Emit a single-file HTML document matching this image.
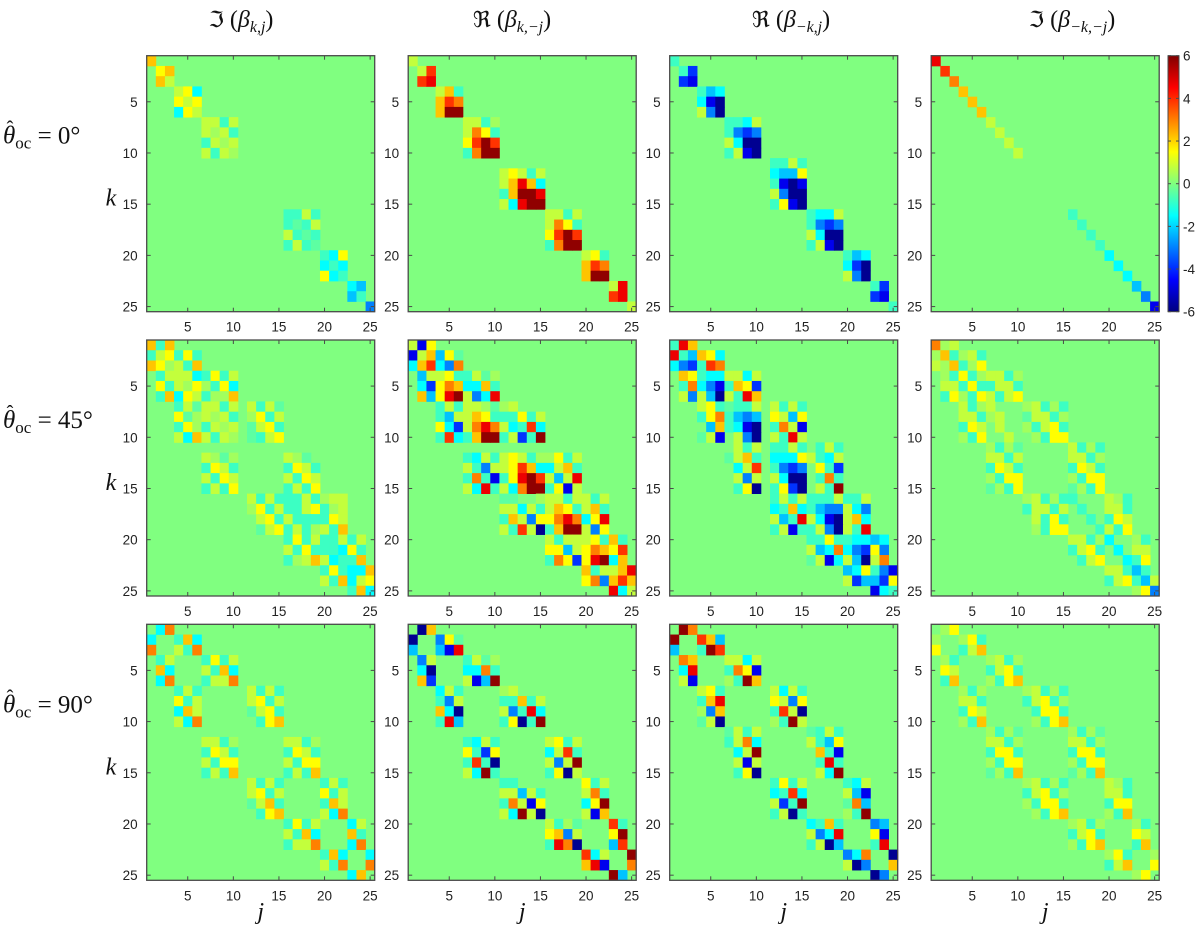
<!DOCTYPE html>
<html>
<head>
<meta charset="utf-8">
<style>
  html,body{margin:0;padding:0;background:#fff;}
  svg{display:block;}
</style>
</head>
<body>
<svg id="fig" xmlns="http://www.w3.org/2000/svg" width="1200" height="935" viewBox="0 0 1200 935">
  <defs>
    <linearGradient id="jetgrad" x1="0" y1="1" x2="0" y2="0">
      <stop offset="0" stop-color="rgb(0,0,128)"/>
      <stop offset="0.125" stop-color="rgb(0,0,255)"/>
      <stop offset="0.375" stop-color="rgb(0,255,255)"/>
      <stop offset="0.625" stop-color="rgb(255,255,0)"/>
      <stop offset="0.875" stop-color="rgb(255,0,0)"/>
      <stop offset="1" stop-color="rgb(128,0,0)"/>
    </linearGradient>
  </defs>
</svg>
<script>
// ---------- data ----------
const levelChars = ["G","F","E","D","C","B","A","L",".","l","a","b","c","d","e","f","g"];
const levelValues = [-5.8,-4.7,-3.9,-3,-2.2,-1.5,-0.8,-0.4,0,0.4,0.8,1.5,2.2,3,3.9,4.7,5.8];
const kTicks = [5,10,15,20,25];
const jTicks = [5,10,15,20,25];
const colorbarTicks = [6,4,2,0,-2,-4,-6];
const rowAngles = ["0°","45°","90°"];
const titleSubs = ["k,j","k,−j","−k,j","−k,−j"];
const titleOps = ["ℑ","ℜ","ℜ","ℑ"];

const gridR1C1 = ["1:c","2:bc","2:ca","4:abB","4:bab","4:Bba","7:aaAa","7:alaA","7:Aala","7:aAal","","","","","","16:AAaA","16:ALAa","16:aALA","16:AaAL","20:ABb","20:BAB","20:bBA","23:BC","23:CA","25:D"];
const gridR1C2 = ["1:a","2:ae","2:ef","4:acA","4:ced","4:cgg","7:aaAl","7:adbA","7:bege","7:Adgg","","11:abaAa","11:acfcB","11:Acggf","11:aBfgg","16:aaAa","16:adbA","16:bege","16:Adgg","20:abA","20:ced","20:cgg","23:af","23:ef","25:a"];
const gridR1C3 = ["1:A","2:AE","2:EF","4:ACB","4:BFG","4:aDG","7:AABa","7:ADED","7:aBGG","7:AaFG","12:AAaA","12:BCCb","12:AFGF","12:aDGG","12:AbFG","16:ABBa","16:ADED","16:aBGG","16:AaFG","20:ACB","20:BEG","20:aDG","23:AE","23:EF","25:A"];
const gridR1C4 = ["1:f","2:e","3:d","4:c","5:c","6:c","7:a","8:a","9:a","10:a","","","","","","16:A","17:A","18:A","19:A","20:B","21:B","22:B","23:C","24:D","25:F"];

const gridR2C1 = ["1:cAc","1:AabAbA","1:cblaAc","2:AaaaBAbAa","2:bAalblAbB","2:AcBbaAllc","4:AaLaaAa 12:aAaL","4:bLlalaA 12:lbAa","4:AblAala 12:LabA","4:aBcaAal 12:LAab","","7:alLl 16:alL","7:AbaA 16:AbaA","7:aAba 16:aAba","7:AaAb 16:AaAb","12:aAaAAAaAlaa","12:lbAaAAabAla","13:abAaAAAAba","13:LabAaAlaAc","16:AbAaAAaAa","16:aAbAAABbA","16:AlacaBAAc","20:AbABBc","20:aAcBab","23:AcB"];
const gridR2C2 = ["1:aFb","1:FacCbL","1:BceBDd","2:CaabAAaLl","2:BEbdcBBcA","2:cCbfgaDBf","4:AaAaalLla","4:ACaacbAAAbAa","4:bBEadfdaBAeB","4:AeBAcggAaEAg","","7:ABaAabaAllbAa","7:aADaabecBBacA","7:AdAFAbfgeaCaf","7:aBfAaBdggAbFa","11:LL 15:laaAaaAa","11:aaBaAacbAacA","11:AcaDbbdfdBbf","11:aAeaGAcggaDb","16:aAaaabAcA","16:bbCabdcbe","16:AdbEbfgBc","20:cAaacf","20:bdDcec","23:fBa"];
const gridR2C3 = ["1:Afc","1:fACcbB","1:BDEAed","2:cbABBaaBa","2:AdBDFAcbE","2:aDaCGaAfc","4:abALAAa 12:aAaA","4:AbdACDC 12:baCb","5:CcABFG 12:AdaF","4:LaF 8:aDG 12:aAfa","8:aAa 12:AAaA 17:AaA","7:LacA 12:BBBbaABa","8:Bae 12:ADED 17:bAE","8:aDa 12:aBGG 17:AdA","8:AbG 12:AbEG 17:aAg","12:AaAaAAAaAAa","12:BAcBACDDaBD","12:aCAfaBFGacB","12:AaFAAaDGaAf","16:AAbAABBCB","16:aCBdBDEbD","16:LaFBaCGad","20:CBbADF","20:aECCEb","23:FBA"];
const gridR2C4 = ["1:dla","1:lcAlaA","1:alcAlb","2:lAbAlaaAl","2:aaAbAAaaA","2:AblAbaAab","4:aAla 11:laAlA","4:aaAla 11:LaaAl","4:Aba 8:a 11:lAabA","4:lAb 9:a 12:lAbb","7:lAlL 16:aAlA","7:aaAa 16:aaAl","7:AbaA 16:AbaA","7:lAbb 16:lAbb","7:LlAb 16:LlAb","11:laAlAA 20:alA","11:AaaAa 17:A 20:aaA","12:aAbA 18:A 20:Aba","12:lAbb 19:AaAb","16:aaAlB 23:lA","16:AabA 21:B 23:aa","17:Aab 22:BAb","20:aaACA","20:AabACa","23:lbD"];

const gridR3C1 = ["2:Bd","1:B 4:AcB","1:d 4:aAd","2:Aa 7:AbAa","2:cB 7:aAcB","2:Bd 7:Aaad","4:AaA 12:aAaA","4:bAa 12:abAa","4:Bca 12:LabA","4:aBd 13:Abc","","7:aaAl 16:aaAl","7:AbaA 16:AbaA","7:aAbb 16:aAbb","7:AaAc 16:AaAc","12:aAaA 20:AaA","12:abAa 20:bAa","12:LacA 20:Aca","13:Abc 20:aBd","16:AbAa 23:Ba","16:aAcB 23:cA","16:Aaad 23:Bd","20:AcB 25:B","20:aAd 25:d","23:Bc"];
const gridR3C2 = ["2:Gc","1:G 4:DbL","1:C 4:CFf","2:Da 7:AaLl","2:BG 7:BBdA","2:cE 7:aFCg","4:BaA 11:la","4:ADa 11:AAcAa","4:cBG 11:aDAfB","4:AfC 11:AbGAg","","7:ABaA 16:abAa","7:bAEb 16:BaeA","7:AeAG 16:aDag","7:aBgA 16:AbGa","11:AA 20:bAa","11:aaCaA 20:adA","11:AdaFb 20:Bbg","11:aBgaG 20:aFc","16:aAlL 23:eA","16:bcDa 23:bg","16:AfdG 23:Ce","20:eBa 25:g","20:cfF 25:d","23:gC"];
const gridR3C3 = ["2:gd","1:g 4:ecC","1:C 4:Age","2:dc 7:aaBa","2:Bf 7:AdbF","2:aF 7:lAgc","4:abA 12:aBaA","4:Acf 12:baDb","4:lDc 12:AeaG","4:LaG 12:lAga","7:LaAa 16:LAaA","7:AadB 16:aACb","8:Bag 17:cAF","8:aFa 17:AfA","8:AbG 17:aBg","12:AbAa 20:ABa","12:BAeB 20:aCF","12:aEAg 20:LdC","12:AaGA 20:lAg","16:BAcA 23:DC","16:aDBf 23:bF","16:AaGC 23:Af","20:DBd 25:G","20:aGD 25:c","23:GD"];
const gridR3C4 = ["2:lb","1:l 4:lbA","1:b 4:Aac","2:lA 7:laAl","2:ba 7:AabA","2:Ac 7:lAbc","4:lAl 11:laAlA","4:aaA 11:AabAl","4:Aba 12:AbbA","4:lAc 12:lAbc","7:lAlL 16:lAlL","7:aaAl 16:aaAl","7:AbbA 16:AbbA","7:lAbb 16:lAbb","7:LlAc 16:LlAc","11:laAlA 20:alA","11:AabAl 20:aaA","11:lAbbA 20:Abb","12:lAbc 20:lAc","16:laAl 23:lA","16:AabA 23:ba","16:lAbc 23:Ac","20:lbA 25:l","20:Aac 25:b","23:lb"];

const allGrids = [[gridR1C1,gridR1C2,gridR1C3,gridR1C4],[gridR2C1,gridR2C2,gridR2C3,gridR2C4],[gridR3C1,gridR3C2,gridR3C3,gridR3C4]];

// ---------- layout ----------
const NS = "http://www.w3.org/2000/svg";
const svg = document.getElementById("fig");
const PW = 228, PH = 256, N = 25;
const CW = PW / N, CH = PH / N;
const panelLeft = [146.7, 408.2, 669.7, 931.2];
const panelTop = [55.7, 340, 624.3];
const titleCenter = [241, 512, 791, 1072];
const VMIN = -6, VMAX = 6;
const AX = "#4a4a4a";

function el(tag, attrs, parent) {
  const e = document.createElementNS(NS, tag);
  for (const k in attrs) e.setAttribute(k, attrs[k]);
  (parent || svg).appendChild(e);
  return e;
}
function jet(v) {
  let t = (v - VMIN) / (VMAX - VMIN);
  t = Math.max(0, Math.min(1, t));
  const c = x => Math.round(255 * Math.max(0, Math.min(1, x)));
  const r = c(1.5 - Math.abs(4 * t - 3));
  const g = c(1.5 - Math.abs(4 * t - 2));
  const b = c(1.5 - Math.abs(4 * t - 1));
  return "rgb(" + r + "," + g + "," + b + ")";
}
function valueOf(ch) {
  const i = levelChars.indexOf(ch);
  return i < 0 ? 0 : levelValues[i];
}
function xScale(px, j) { return px + (j - 1) * CW; }
function yScale(py, k) { return py + (k - 1) * CH; }

// ---------- column titles ----------
for (let c = 0; c < 4; c++) {
  const t = el("text", {x: titleCenter[c], y: 27, "text-anchor": "middle", "font-size": 24, "font-family": "'Liberation Serif','DejaVu Serif',serif", fill: "#111"});
  
  
  const a = el("tspan", {"font-family": "'DejaVu Serif',serif", "font-size": 22}, t); a.textContent = titleOps[c];
  const b = el("tspan", {}, t); b.textContent = " (";
  const d = el("tspan", {"font-style": "italic"}, t); d.textContent = "β";
  const e = el("tspan", {"font-style": "italic", "font-size": 16, dy: 5}, t); e.textContent = titleSubs[c];
  const f = el("tspan", {dy: -5}, t); f.textContent = ")";
}

// ---------- panels ----------
for (let r = 0; r < 3; r++) {
  const py = panelTop[r];
  const g = el("g", {});
  
  
  const rl = el("text", {x: 3, y: py + 88, "font-size": 25, "font-family": "'Liberation Serif','DejaVu Serif',serif", fill: "#111"}, g);
  const th = el("tspan", {"font-style": "italic"}, rl); th.textContent = "θ";
  const oc = el("tspan", {"font-size": 17, dy: 5}, rl); oc.textContent = "oc";
  const eq = el("tspan", {dy: -5}, rl); eq.textContent = " = " + rowAngles[r];
  const hat = el("text", {x: 10, y: py + 79, "text-anchor": "middle", "font-size": 20, "font-family": "'Liberation Serif',serif", fill: "#111"}, g);
  hat.textContent = "ˆ";
  const kl = el("text", {x: 111, y: py + 150, "text-anchor": "middle", "font-size": 24, "font-style": "italic", "font-family": "'Liberation Serif',serif", fill: "#111"});
  
  
  kl.textContent = "k";

  for (let c = 0; c < 4; c++) {
    const px = panelLeft[c];
    const grid = allGrids[r][c];
    const pg = el("g", {});
    
    
    const bg = el("rect", {x: px, y: py, width: PW, height: PH, fill: jet(0)}, pg);
    
    
    for (let k = 1; k <= N; k++) {
      const rowStr = grid[k - 1] || "";
      const segs = rowStr.split(" ").filter(s => s.length);
      for (const s of segs) {
        const parts = s.split(":");
        const start = parseInt(parts[0], 10);
        const chars = parts[1];
        for (let i = 0; i < chars.length; i++) {
          const v = valueOf(chars[i]);
          if (v === 0) continue;
          const j = start + i;
          const cell = el("rect", {x: xScale(px, j).toFixed(2), y: yScale(py, k).toFixed(2), width: (CW + 0.4).toFixed(2), height: (CH + 0.4).toFixed(2), fill: jet(v)}, pg);
          
          
        }
      }
    }
    const fr = el("rect", {x: px, y: py, width: PW, height: PH, fill: "none", stroke: AX, "stroke-width": 1.3}, pg);
    
    
    for (const j of jTicks) {
      const x = px + (j - 0.5) * CW;
      const t1 = el("line", {x1: x, x2: x, y1: py, y2: py + 4, stroke: AX, "stroke-width": 1}, pg);
      
      
      const t2 = el("line", {x1: x, x2: x, y1: py + PH, y2: py + PH - 4, stroke: AX, "stroke-width": 1}, pg);
      
      
      const lb = el("text", {x: x, y: py + PH + 20, "text-anchor": "middle", "font-size": 13.5, "font-family": "'Liberation Sans',sans-serif", fill: "#222"}, pg);
      
      
      lb.textContent = j;
    }
    for (const k of kTicks) {
      const y = py + (k - 0.5) * CH;
      const t1 = el("line", {x1: px, x2: px + 4, y1: y, y2: y, stroke: AX, "stroke-width": 1}, pg);
      
      
      const t2 = el("line", {x1: px + PW, x2: px + PW - 4, y1: y, y2: y, stroke: AX, "stroke-width": 1}, pg);
      
      
      const lb = el("text", {x: px - 9, y: y + 5, "text-anchor": "end", "font-size": 13.5, "font-family": "'Liberation Sans',sans-serif", fill: "#222"}, pg);
      
      
      lb.textContent = k;
    }
    if (r === 2) {
      const jl = el("text", {x: px + PW / 2, y: 919, "text-anchor": "middle", "font-size": 24, "font-style": "italic", "font-family": "'Liberation Serif',serif", fill: "#111"});
      
      
      jl.textContent = "j";
    }
  }
}

// ---------- colorbar ----------
const CBX = 1168, CBW = 11, CBY = panelTop[0], CBH = PH;
const cb = el("rect", {x: CBX, y: CBY, width: CBW, height: CBH, fill: "url(#jetgrad)", stroke: AX, "stroke-width": 1});


for (const v of colorbarTicks) {
  const y = CBY + CBH - (v - VMIN) / (VMAX - VMIN) * CBH;
  const t1 = el("line", {x1: CBX, x2: CBX + 3, y1: y, y2: y, stroke: AX, "stroke-width": 1});
  
  
  const t2 = el("line", {x1: CBX + CBW, x2: CBX + CBW - 3, y1: y, y2: y, stroke: AX, "stroke-width": 1});
  
  
  const lb = el("text", {x: CBX + CBW + 4, y: y + 5, "font-size": 13.5, "font-family": "'Liberation Sans',sans-serif", fill: "#222"});
  
  
  lb.textContent = v;
}
</script>
</body>
</html>
